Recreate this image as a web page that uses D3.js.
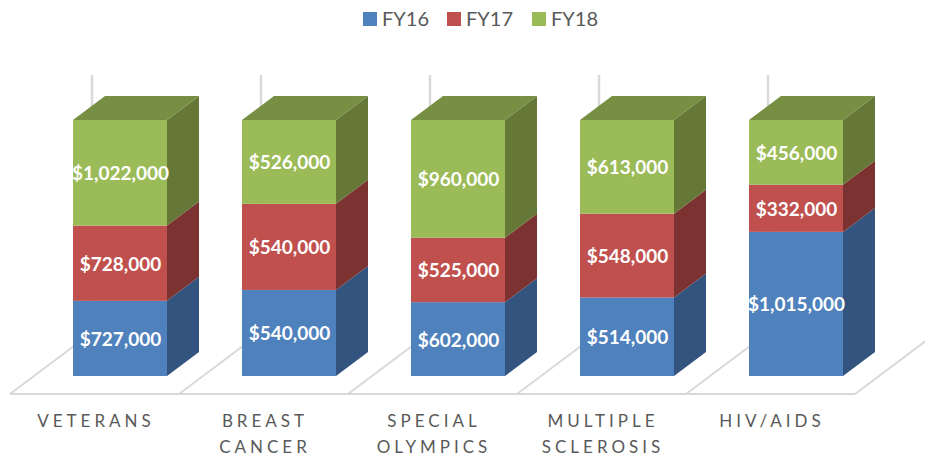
<!DOCTYPE html>
<html><head><meta charset="utf-8">
<style>html,body{margin:0;padding:0;background:#fff}svg{display:block}</style>
<script src="https://cdn.jsdelivr.net/npm/d3@7"></script></head>
<body><svg id="c" width="925" height="457"></svg>
<script>
const categories = ["VETERANS", "BREAST CANCER", "SPECIAL OLYMPICS", "MULTIPLE SCLEROSIS", "HIV/AIDS"];
const seriesNames = ["FY16", "FY17", "FY18"];
const fy16 = [727000, 540000, 602000, 514000, 1015000];
const fy17 = [728000, 540000, 525000, 548000, 332000];
const fy18 = [1022000, 526000, 960000, 613000, 456000];
const front = ["#4F81BD", "#C0504D", "#9BBB59"];
const side = ["#32547E", "#7C3230", "#657837"];
const topColor = "#768F43";

const rows = categories.map((c, i) => ({c, FY16: fy16[i], FY17: fy17[i], FY18: fy18[i]}));
const stacked = d3.stack().keys(seriesNames).offset(d3.stackOffsetExpand)(rows);
const svg = d3.select("#c");
const font = "Lato, Carlito, Calibri, sans-serif";
const x = d3.scaleBand().domain(categories).range([35.5, 880.5]).paddingInner(0.4438).paddingOuter(0.2219);
const y = d3.scaleLinear().domain([0, 1]).range([376, 120]);
const dx = 32, dy = -24;
const step = x.step(), bw = x.bandwidth();
const floorFront = 394, floorLeft = c => x(c) - 63;
const grid = "#D9D9D9";

// walls and floor
const g = svg.append("g");
categories.forEach(c => {
  const x0 = floorLeft(c);
  g.append("line").attr("x1", x0 + 82).attr("x2", x0 + 82).attr("y1", 75).attr("y2", floorFront - 61)
    .attr("stroke", grid).attr("stroke-width", 2.5);
  g.append("line").attr("x1", x0).attr("x2", x0 + 82).attr("y1", floorFront).attr("y2", floorFront - 61.5)
    .attr("stroke", grid).attr("stroke-width", 2);
});
const xEnd = floorLeft(categories[4]) + step;
g.append("line").attr("x1", xEnd).attr("x2", xEnd + 82).attr("y1", floorFront).attr("y2", floorFront - 61.5)
  .attr("stroke", grid).attr("stroke-width", 2);
g.append("line").attr("x1", floorLeft(categories[0])).attr("x2", xEnd).attr("y1", floorFront).attr("y2", floorFront)
  .attr("stroke", grid).attr("stroke-width", 2);

// 3D bars
const poly = pts => pts.map(p => p.join(",")).join(" ");
stacked.forEach((s, si) => {
  const layer = svg.append("g");
  s.forEach(d => {
    const c = d.data.c, l = x(c), r = l + bw, yb = y(d[0]), yt = y(d[1]);
    layer.append("polygon").attr("points", poly([[r, yb], [r + dx, yb + dy], [r + dx, yt + dy], [r, yt]])).attr("fill", side[si]);
    if (si === stacked.length - 1)
      layer.append("polygon").attr("points", poly([[l, yt], [l + dx, yt + dy], [r + dx, yt + dy], [r, yt]])).attr("fill", topColor);
    layer.append("rect").attr("x", l).attr("y", yt).attr("width", bw).attr("height", yb - yt).attr("fill", front[si]);
  });
});
// value labels
const money = d3.format("$,");
stacked.forEach(s => {
  s.forEach(d => {
    const val = d.data[s.key];
    svg.append("text").attr("x", x(d.data.c) + bw / 2 + 0.5).attr("y", (y(d[0]) + y(d[1])) / 2 + 7.5)
      .attr("text-anchor", "middle").attr("fill", "#fff").attr("font-family", font)
      .attr("font-weight", 700).attr("font-size", 19).text(money(val));
  });
});
// category labels
categories.forEach(c => {
  const words = c === "HIV/AIDS" ? [c] : c.split(" ");
  words.forEach((w, i) => {
    svg.append("text").attr("x", x(c) + bw / 2 - 24).attr("y", 427 + i * 26)
      .attr("text-anchor", "middle").attr("fill", "#595959").attr("font-family", font)
      .attr("font-size", 17).attr("letter-spacing", 4).text(w);
  });
});
// legend
const legendX = [363, 447, 532];
seriesNames.forEach((n, i) => {
  svg.append("rect").attr("x", legendX[i]).attr("y", 12).attr("width", 14).attr("height", 14).attr("fill", front[i]);
  svg.append("text").attr("x", legendX[i] + 19).attr("y", 26).attr("fill", "#595959")
    .attr("font-family", font).attr("font-size", 20).text(n);
});
</script></body></html>
